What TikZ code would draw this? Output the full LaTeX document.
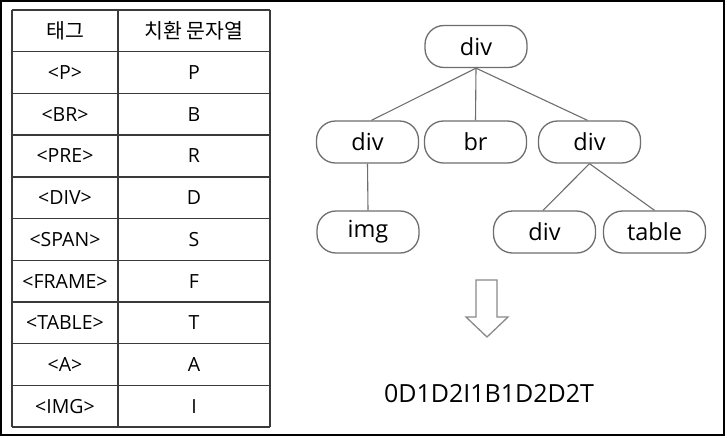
\documentclass[tikz,border=0pt]{standalone}
\usepackage{fontspec}
\setmainfont{Open Sans}
\newfontfamily\krfont{Noto Sans CJK KR}
\definecolor{tabline}{HTML}{3A3A3A}
\definecolor{nodeline}{HTML}{6E6E6E}
\definecolor{arrline}{HTML}{8A8A8A}
\begin{document}
\begin{tikzpicture}[x=1pt,y=-1pt,
  cell/.style={font=\fontsize{19.5}{21}\selectfont, inner sep=0pt},
  hcell/.style={font=\krfont\fontsize{20.5}{22}\selectfont, inner sep=0pt},
  tnode/.style={draw=nodeline, line width=1.3pt, rounded corners=19pt, minimum width=102pt, minimum height=42pt, inner sep=0pt, font=\fontsize{23.5}{25}\selectfont, fill=white},
  tedge/.style={draw=nodeline, line width=1.1pt}]
\useasboundingbox (0,0) rectangle (727,437);
\fill[white] (0,0) rectangle (727,437);
\draw[black, line width=2pt] (1,1) rectangle (724,435);
% table grid
\foreach \k in {0,...,10} {
  \draw[tabline, line width=1.4pt] (12,{10+\k*41.7}) -- (270,{10+\k*41.7});
}
\draw[tabline, line width=1.4pt] (12,10) -- (12,427);
\draw[tabline, line width=1.4pt] (118,10) -- (118,427);
\draw[tabline, line width=1.4pt] (270,10) -- (270,427);
% header
\node[hcell] (h1) at (65,31) {태그};
\node[hcell] (h2) at (194,31) {치환 문자열};
% rows
\foreach \t/\r [count=\i] in {P/P, BR/B, PRE/R, DIV/D, SPAN/S, FRAME/F, TABLE/T, A/A, IMG/I} {
  \node[cell] (t\i) at (65,{10+41.7*\i+20.85}) {<\t>};
  \node[cell] (r\i) at (194,{10+41.7*\i+20.85}) {\r};
}
% tree
\node[tnode] (root) at (476,46.5) {div};
\node[tnode] (d1) at (367.5,142) {div};
\node[tnode] (br) at (475.5,142) {br};
\node[tnode] (d2) at (589.5,142) {div};
\node[tnode] (img) at (368,232) {img};
\node[tnode] (d3) at (544.5,232) {div};
\node[tnode] (tab) at (654.5,232) {table};
\draw[tedge] (root.south) -- ([xshift=4pt]d1.north);
\draw[tedge] (root.south) -- (br.north);
\draw[tedge] (root.south) -- ([xshift=-2pt]d2.north);
\draw[tedge] (d1.south) -- (img.north);
\draw[tedge] (d2.south) -- ([xshift=-1.5pt]d3.north);
\draw[tedge] (d2.south) -- (tab.north);
% block arrow
\draw[arrline, line width=1.3pt, fill=white, line join=miter]
  (476,280) -- (497,280) -- (497,317) -- (508,317) -- (487,337) -- (466,317) -- (476,317) -- cycle;
% result string
\node[anchor=base, inner sep=0pt, font=\fontsize{25}{28}\selectfont] (res) at (489,402.5) {0D1D2I1B1D2D2T};
\end{tikzpicture}
\end{document}
